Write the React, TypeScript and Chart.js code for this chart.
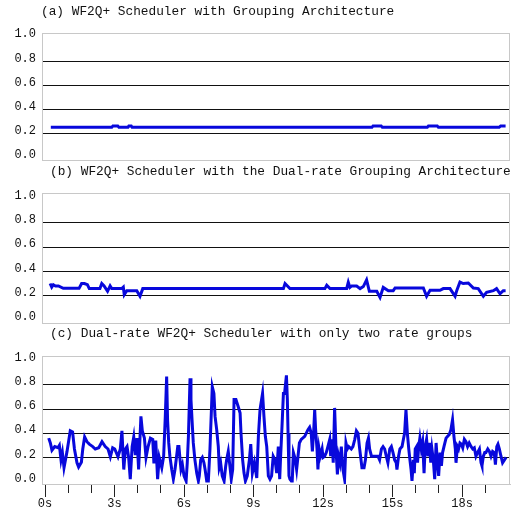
import React, { useEffect, useRef } from 'react';
import { Chart, registerables } from 'chart.js';

Chart.register(...registerables);

// ---------- text ----------
const titleA = '(a) WF2Q+ Scheduler with Grouping Architecture';
const titleB = '(b) WF2Q+ Scheduler with the Dual-rate Grouping Architecture';
const titleC = '(c) Dual-rate WF2Q+ Scheduler with only two rate groups';

// ---------- ticks ----------
const yTickValues = [0, 0.2, 0.4, 0.6, 0.8, 1.0];
const xTickSeconds = [0, 1, 2, 3, 4, 5, 6, 7, 8, 9, 10, 11, 12, 13, 14, 15, 16, 17, 18, 19];
const xLabelEvery = 3;

// ---------- panel (a) ----------
const timesA = [0.25, 2.88, 2.93, 3.14, 3.19, 3.58, 3.62, 3.72, 3.76, 14.11, 14.16, 14.51, 14.56, 16.5, 16.55, 16.93, 16.98, 19.6, 19.67, 19.88];
const valuesA = [0.255, 0.255, 0.267, 0.267, 0.255, 0.255, 0.267, 0.267, 0.255, 0.255, 0.267, 0.267, 0.255, 0.255, 0.267, 0.267, 0.255, 0.255, 0.267, 0.267];

// ---------- panel (b) ----------
const timesB = [0.22, 0.29, 0.36, 0.45, 0.58, 0.79, 1.47, 1.58, 1.7, 1.83, 1.91, 2.37, 2.45, 2.55, 2.7, 2.81, 2.88, 3.31, 3.38, 3.42, 3.53, 3.96, 4.1, 4.22, 10.29, 10.36, 10.57, 12.08, 12.16, 12.3, 13.02, 13.09, 13.16, 13.24, 13.45, 13.6, 13.74, 13.88, 14.0, 14.32, 14.46, 14.6, 14.82, 15.03, 15.11, 16.33, 16.47, 16.62, 17.05, 17.19, 17.48, 17.7, 17.77, 17.91, 18.05, 18.27, 18.49, 18.7, 18.92, 19.06, 19.35, 19.49, 19.64, 19.78, 19.88];
const valuesB = [0.3, 0.27, 0.29, 0.28, 0.28, 0.26, 0.26, 0.3, 0.3, 0.29, 0.258, 0.258, 0.3, 0.28, 0.236, 0.28, 0.258, 0.258, 0.27, 0.208, 0.241, 0.241, 0.195, 0.258, 0.258, 0.3, 0.258, 0.258, 0.285, 0.258, 0.258, 0.31, 0.268, 0.28, 0.28, 0.258, 0.275, 0.33, 0.236, 0.236, 0.186, 0.268, 0.241, 0.241, 0.263, 0.263, 0.195, 0.244, 0.244, 0.258, 0.258, 0.195, 0.241, 0.312, 0.3, 0.304, 0.263, 0.258, 0.195, 0.227, 0.241, 0.258, 0.216, 0.241, 0.241];

// ---------- panel (c) ----------
const timesC = [
  0.16, 0.23, 0.3, 0.42, 0.56, 0.62, 0.69, 0.75, 0.82, 0.95, 1.09, 1.19, 1.27, 1.38, 1.45, 1.57, 1.63, 1.71, 1.81, 1.91,
  2.06, 2.17, 2.32, 2.46, 2.6, 2.72, 2.82, 2.92, 3.01, 3.15, 3.25, 3.32, 3.4, 3.47, 3.54, 3.61, 3.68, 3.76, 3.83, 3.9,
  3.97, 4.04, 4.14, 4.2, 4.29, 4.36, 4.45, 4.55, 4.65, 4.7, 4.78, 4.86, 4.93, 5.04, 5.12, 5.19, 5.25, 5.29, 5.34, 5.39,
  5.47, 5.54, 5.61, 5.68, 5.73, 5.78, 5.83, 5.87, 5.93, 6.0, 6.09, 6.14, 6.19, 6.26, 6.3, 6.36, 6.4, 6.47, 6.55, 6.62,
  6.66, 6.72, 6.79, 6.86, 6.91, 6.98, 7.05, 7.12, 7.22, 7.29, 7.34, 7.41, 7.48, 7.52, 7.58, 7.65, 7.73, 7.8, 7.84, 7.91,
  7.98, 8.04, 8.1, 8.16, 8.24, 8.34, 8.42, 8.46, 8.53, 8.59, 8.65, 8.73, 8.82, 8.88, 8.95, 9.04, 9.14, 9.21, 9.28, 9.39,
  9.45, 9.51, 9.57, 9.64, 9.71, 9.78, 9.85, 9.93, 10.0, 10.07, 10.13, 10.17, 10.23, 10.29, 10.34, 10.42, 10.46, 10.49, 10.53, 10.57,
  10.63, 10.67, 10.72, 10.78, 10.82, 10.86, 10.92, 10.98, 11.06, 11.21, 11.35, 11.42, 11.49, 11.54, 11.6, 11.64, 11.68, 11.74, 11.78, 11.83,
  11.88, 11.96, 12.0, 12.07, 12.14, 12.21, 12.29, 12.33, 12.39, 12.44, 12.5, 12.56, 12.62, 12.67, 12.73, 12.79, 12.86, 12.93, 12.99, 13.05,
  13.11, 13.22, 13.29, 13.37, 13.44, 13.51, 13.57, 13.62, 13.68, 13.77, 13.83, 13.9, 13.96, 14.01, 14.09, 14.23, 14.37, 14.44, 14.52, 14.59,
  14.66, 14.73, 14.8, 14.88, 14.95, 15.02, 15.09, 15.16, 15.19, 15.26, 15.32, 15.41, 15.47, 15.52, 15.58, 15.64, 15.7, 15.75, 15.8, 15.84,
  15.9, 15.94, 15.98, 16.04, 16.08, 16.13, 16.18, 16.24, 16.3, 16.36, 16.41, 16.47, 16.53, 16.59, 16.65, 16.7, 16.76, 16.82, 16.88, 16.93,
  16.99, 17.05, 17.11, 17.16, 17.22, 17.31, 17.38, 17.45, 17.52, 17.59, 17.65, 17.71, 17.74, 17.8, 17.85, 17.91, 17.97, 18.03, 18.1, 18.17,
  18.24, 18.31, 18.39, 18.46, 18.53, 18.6, 18.67, 18.75, 18.82, 18.86, 18.92, 18.98, 19.03, 19.11, 19.18, 19.25, 19.32, 19.39, 19.44, 19.5,
  19.55, 19.61, 19.68, 19.75, 19.83, 19.9,
];
const valuesC = [
  0.36, 0.32, 0.26, 0.29, 0.28, 0.3, 0.18, 0.24, 0.115, 0.25, 0.42, 0.41, 0.27, 0.155, 0.12, 0.16, 0.27, 0.37, 0.33, 0.31,
  0.29, 0.27, 0.28, 0.33, 0.29, 0.27, 0.205, 0.28, 0.27, 0.205, 0.27, 0.42, 0.1, 0.27, 0.29, 0.2, 0.02, 0.29, 0.37, 0.22,
  0.36, 0.1, 0.54, 0.42, 0.36, 0.2, 0.29, 0.36, 0.35, 0.15, 0.34, 0.02, 0.2, 0.115, 0.21, 0.53, 0.87, 0.51, 0.32, 0.21,
  0.1, 0.02, 0.1, 0.21, 0.29, 0.29, 0.18, 0.1, 0.14, 0.047, 0.005, 0.156, 0.375, 0.855, 0.68, 0.46, 0.32, 0.18, 0.07, 0.005,
  0.047, 0.18, 0.2, 0.156, 0.1, 0.005, 0.005, 0.27, 0.786, 0.73, 0.54, 0.43, 0.29, 0.115, 0.156, 0.047, 0.005, 0.13, 0.18, 0.25,
  0.13, 0.02, 0.1, 0.68, 0.68, 0.62, 0.567, 0.4, 0.18, 0.07, 0.005, 0.047, 0.18, 0.31, 0.07, 0.156, 0.03, 0.375, 0.595, 0.73,
  0.54, 0.375, 0.29, 0.047, 0.02, 0.047, 0.21, 0.18, 0.07, 0.29, 0.02, 0.21, 0.46, 0.73, 0.73, 0.88, 0.68, 0.4, 0.047, 0.02,
  0.005, 0.005, 0.24, 0.2, 0.156, 0.1, 0.21, 0.32, 0.35, 0.375, 0.43, 0.45, 0.4, 0.25, 0.43, 0.595, 0.43, 0.27, 0.1, 0.27,
  0.21, 0.27, 0.2, 0.21, 0.24, 0.29, 0.35, 0.21, 0.35, 0.156, 0.61, 0.27, 0.06, 0.21, 0.156, 0.29, 0.1, 0.02, 0.32, 0.27,
  0.29, 0.27, 0.29, 0.35, 0.42, 0.4, 0.29, 0.21, 0.115, 0.115, 0.18, 0.32, 0.36, 0.27, 0.21, 0.21, 0.21, 0.18, 0.27, 0.29,
  0.27, 0.21, 0.156, 0.27, 0.29, 0.24, 0.18, 0.156, 0.1, 0.21, 0.27, 0.29, 0.35, 0.4, 0.595, 0.4, 0.27, 0.18, 0.1, 0.005,
  0.18, 0.07, 0.27, 0.29, 0.156, 0.29, 0.36, 0.27, 0.33, 0.07, 0.29, 0.35, 0.21, 0.32, 0.156, 0.27, 0.18, 0.02, 0.32, 0.18,
  0.047, 0.24, 0.13, 0.24, 0.29, 0.36, 0.375, 0.39, 0.43, 0.512, 0.375, 0.27, 0.156, 0.29, 0.27, 0.32, 0.31, 0.28, 0.35, 0.33,
  0.29, 0.32, 0.29, 0.27, 0.28, 0.21, 0.24, 0.27, 0.156, 0.13, 0.21, 0.24, 0.24, 0.27, 0.25, 0.21, 0.25, 0.24, 0.14, 0.29,
  0.31, 0.27, 0.21, 0.156, 0.18, 0.2,
];

// ---------- style ----------
const MONO = '"Liberation Mono", "DejaVu Sans Mono", monospace';
const LINE_COLOR = '#0808dc';
const BOX_COLOR = '#c8c8c8';
const TEXT_COLOR = '#111111';
const X_MIN = -0.13;
const X_MAX = 20.07;
const W = 517;

function makeTitlePlugin(text: string, x: number, y: number) {
  return {
    id: 'panelTitle',
    afterDraw(chart: any) {
      const ctx = chart.ctx;
      ctx.save();
      ctx.font = `12.8px ${MONO}`;
      ctx.fillStyle = TEXT_COLOR;
      ctx.textAlign = 'left';
      ctx.textBaseline = 'middle';
      ctx.fillText(text, x, y);
      ctx.restore();
    },
  };
}

const boxPlugin = {
  id: 'plotBox',
  beforeDatasetsDraw(chart: any) {
    const { left, top, right, bottom } = chart.chartArea;
    const ctx = chart.ctx;
    ctx.save();
    ctx.strokeStyle = BOX_COLOR;
    ctx.lineWidth = 1;
    ctx.strokeRect(Math.round(left) + 0.5, Math.round(top) + 0.5, Math.round(right - left) - 1, Math.round(bottom - top));
    ctx.restore();
  },
};

type PanelProps = {
  top: number;
  height: number;
  title: string;
  titleX: number;
  titleY: number;
  times: number[];
  values: number[];
  yMin: number;
  yMax: number;
  padTop: number;
  padBottom: number;
  showX: boolean;
};

function Panel(p: PanelProps) {
  const ref = useRef<HTMLCanvasElement>(null);
  useEffect(() => {
    const font = { family: MONO, size: 12 };
    const chart = new Chart(ref.current as HTMLCanvasElement, {
      type: 'line',
      data: {
        datasets: [
          {
            data: p.times.map((t, i) => ({ x: t, y: p.values[i] })),
            borderColor: LINE_COLOR,
            borderWidth: 3,
            pointRadius: 0,
            tension: 0,
            fill: false,
            borderJoinStyle: 'miter',
          },
        ],
      },
      options: {
        animation: false,
        responsive: false,
        events: [],
        layout: { padding: { top: p.padTop, bottom: p.padBottom, left: 0, right: 7 } },
        plugins: {
          legend: { display: false },
          tooltip: { enabled: false },
          title: { display: false },
        },
        scales: {
          x: {
            type: 'linear',
            min: X_MIN,
            max: X_MAX,
            display: p.showX,
            afterBuildTicks: (s: any) => {
              s.ticks = xTickSeconds.map((v) => ({ value: v }));
            },
            afterFit: (s: any) => {
              if (p.showX) s.height = 30;
              s.paddingLeft = 0;
              s.paddingRight = 0;
            },
            grid: {
              drawOnChartArea: false,
              drawTicks: true,
              tickLength: 13,
              tickColor: '#222222',
              tickWidth: 1,
              tickBorderDash: (ctx: any) =>
                ctx.tick && ctx.tick.value % xLabelEvery === 0 ? [] : [8, 30],
            },
            border: { display: true, color: BOX_COLOR },
            ticks: {
              padding: 0,
              autoSkip: false,
              maxRotation: 0,
              font,
              color: TEXT_COLOR,
              callback: (v: any) => (Number(v) % xLabelEvery === 0 ? `${v}s` : ''),
            },
          },
          y: {
            type: 'linear',
            min: p.yMin,
            max: p.yMax,
            afterBuildTicks: (s: any) => {
              s.ticks = yTickValues.map((v) => ({ value: v }));
            },
            afterFit: (s: any) => {
              s.width = 42;
              s.paddingTop = 0;
              s.paddingBottom = 0;
            },
            grid: {
              drawTicks: false,
              lineWidth: 1,
              color: (ctx: any) =>
                ctx.tick && ctx.tick.value > 0.01 && ctx.tick.value < 0.99 ? '#111111' : 'rgba(0,0,0,0)',
            },
            border: { display: true, color: BOX_COLOR },
            ticks: {
              padding: 6,
              labelOffset: -3,
              font,
              color: TEXT_COLOR,
              callback: (v: any) => Number(v).toFixed(1),
            },
          },
        },
      } as any,
      plugins: [makeTitlePlugin(p.title, p.titleX, p.titleY), boxPlugin],
    });
    return () => chart.destroy();
  }, []);
  return (
    <canvas
      ref={ref}
      width={W}
      height={p.height}
      style={{ position: 'absolute', left: 0, top: p.top, width: W, height: p.height, display: 'block' }}
    />
  );
}

export default function App() {
  return (
    <div style={{ position: 'absolute', left: 0, top: 0, width: W, height: 514, background: '#ffffff', overflow: 'hidden' }}>
      <Panel top={0} height={163} title={titleA} titleX={41} titleY={12} times={timesA} values={valuesA}
        yMin={-0.015} yMax={1.035} padTop={33} padBottom={3} showX={false} />
      <Panel top={163} height={162} title={titleB} titleX={50} titleY={9} times={timesB} values={valuesB}
        yMin={-0.025} yMax={1.045} padTop={30} padBottom={2} showX={false} />
      <Panel top={325} height={189} title={titleC} titleX={50} titleY={9} times={timesC} values={valuesC}
        yMin={-0.02} yMax={1.04} padTop={31} padBottom={0} showX={true} />
    </div>
  );
}
